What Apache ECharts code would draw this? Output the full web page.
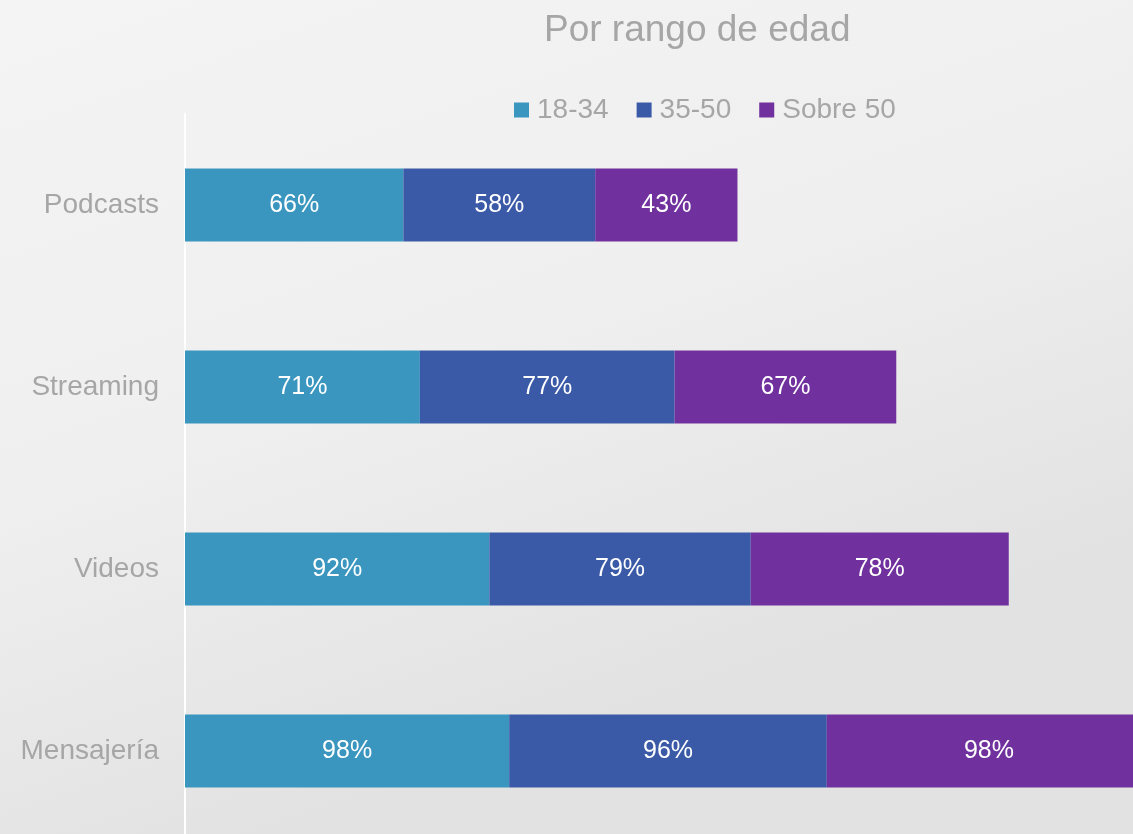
<!DOCTYPE html>
<html>
<head>
<meta charset="utf-8">
<script src="https://cdn.jsdelivr.net/npm/echarts@6/dist/echarts.min.js"></script>
<style>
  html, body { margin: 0; padding: 0; }
  #chart { width: 1133px; height: 834px; }
</style>
</head>
<body>
<div id="chart"></div>
<script>
const categories = ['Podcasts', 'Streaming', 'Videos', 'Mensajería'];
const seriesNames = ['18-34', '35-50', 'Sobre 50'];
const young = [66, 71, 92, 98];
const middle = [58, 77, 79, 96];
const older = [43, 67, 78, 98];
const colors = ['#3a96bf', '#3a5aa7', '#70309d'];

const font = '"Liberation Sans", Arial, sans-serif';
const chart = echarts.init(document.getElementById('chart'));

const makeSeries = (name, values, color) => ({
  name,
  type: 'bar',
  stack: 'total',
  data: values,
  barWidth: 73,
  itemStyle: { color },
  label: {
    show: true,
    position: 'inside',
    formatter: '{c}%',
    color: '#ffffff',
    fontFamily: font,
    fontSize: 25,
  },
  emphasis: { disabled: true },
});

const option = {
  backgroundColor: {
    type: 'linear',
    x: 0, y: 0, x2: 0.25, y2: 1,
    colorStops: [
      { offset: 0, color: '#f4f4f4' },
      { offset: 0.55, color: '#efefef' },
      { offset: 1, color: '#e2e2e2' },
    ],
  },
  color: colors,
  title: {
    text: 'Por rango de edad',
    left: 539,
    top: 7,
    textStyle: {
      color: '#a6a6a6',
      fontFamily: font,
      fontSize: 37,
      fontWeight: 'normal',
    },
  },
  legend: {
    data: seriesNames,
    left: 509,
    top: 91,
    itemWidth: 15,
    itemHeight: 15,
    itemGap: 28,
    icon: 'rect',
    textStyle: {
      color: '#a6a6a6',
      fontFamily: font,
      fontSize: 28,
      padding: [0, 0, 0, 3],
    },
  },
  grid: {
    left: 185,
    top: 114,
    width: 966,
    height: 728,
    containLabel: false,
    outerBoundsMode: 'none',
  },
  xAxis: {
    type: 'value',
    min: 0,
    max: 292,
    show: false,
  },
  yAxis: {
    type: 'category',
    data: categories,
    inverse: true,
    axisLine: { show: true, lineStyle: { color: '#ffffff', width: 2 } },
    axisTick: { show: false },
    axisLabel: {
      color: '#a6a6a6',
      fontFamily: font,
      fontSize: 28,
      margin: 26,
    },
  },
  series: [
    makeSeries(seriesNames[0], young, colors[0]),
    makeSeries(seriesNames[1], middle, colors[1]),
    makeSeries(seriesNames[2], older, colors[2]),
  ],
};

chart.setOption(option);
</script>
</body>
</html>
